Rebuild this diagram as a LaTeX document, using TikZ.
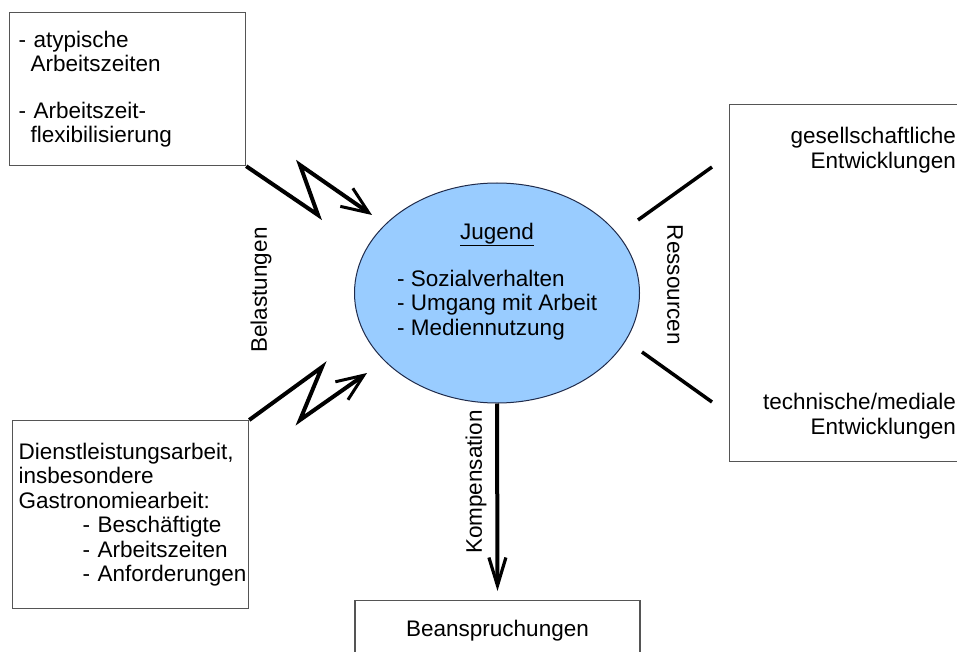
\documentclass[tikz,border=0pt]{standalone}
\usepackage{fontspec}
\setmainfont{Liberation Sans}
\usetikzlibrary{shapes.geometric,arrows.meta}
\definecolor{ellfill}{HTML}{99CCFF}
\definecolor{elldraw}{HTML}{1F2A4A}
\definecolor{boxdraw}{HTML}{555555}
\hyphenpenalty=10000
\exhyphenpenalty=10000
\tikzset{
  every node/.style={font=\fontsize{22.5}{24.5}\selectfont, inner sep=0pt},
  box/.style={draw=boxdraw, line width=1.2pt, rectangle},
  bolt/.style={line width=4pt, line join=miter, -{Straight Barb[length=27pt, width=22pt, line width=3pt]}},
  downarrow/.style={line width=4pt, -{Straight Barb[length=28pt, width=17pt, line width=3.2pt]}},
  plainline/.style={line width=3.5pt}
}
\begin{document}
\begin{tikzpicture}[x=1pt, y=-1pt]
\useasboundingbox (0,0) rectangle (957,652);
\begin{scope}
\clip (0,0) rectangle (957,652);

% top-left box
\node[box, anchor=north west, minimum width=236pt, minimum height=153pt,
      inner xsep=9pt, text width=218pt, align=left] (tl) at (9,12)
  {-~atypische\\\hspace*{12pt}Arbeitszeiten\\[22pt]-~Arbeitszeit-\\\hspace*{12pt}flexibilisierung};

% bottom-left box
\node[box, anchor=north west, minimum width=236pt, minimum height=188pt,
      inner xsep=6pt, text width=224pt, align=left] (bl) at (12,420)
  {Dienstleistungsarbeit,\\insbesondere\\Gastronomiearbeit:\\\hspace*{64pt}\mbox{-~Besch\"aftigte}\\\hspace*{64pt}\mbox{-~Arbeitszeiten}\\\hspace*{64pt}\mbox{-~Anforderungen}};

% right box (extends beyond right edge)
\node[box, anchor=north west, minimum width=280pt, minimum height=357pt] (rb) at (729,104) {};
\node[anchor=east, align=right] (rb1) at (956,150) {gesellschaftliche\\Entwicklungen};
\node[anchor=east, align=right] (rb2) at (956,416) {technische/mediale\\Entwicklungen};

% bottom box (extends beyond bottom edge)
\node[box, anchor=north, minimum width=285pt, minimum height=60pt] (bb) at (497.5,600) {Beanspruchungen};

% ellipse
\node[ellipse, draw=elldraw, line width=1pt, fill=ellfill, minimum width=285pt, minimum height=220pt] (el) at (497,293) {};
\node[anchor=base] (jug) at (497,239) {\underline{Jugend}};
\node[anchor=west, align=left] (list) at (397,305) {-~Sozialverhalten\\-~Umgang mit Arbeit\\-~Mediennutzung};

% lightning arrows
\coordinate (t1) at (318,215);
\coordinate (t2) at (300,165);
\coordinate (t3) at (372,215);
\draw[bolt] (tl.south east) -- (t1) -- (t2) -- (t3);
\coordinate (b1) at (322,367);
\coordinate (b2) at (300,420);
\coordinate (b3) at (367,373);
\draw[bolt] (bl.north east) -- (b1) -- (b2) -- (b3);

% resource lines
\coordinate (r1a) at (638,220);
\coordinate (r1b) at (712,167);
\coordinate (r2a) at (642,352);
\coordinate (r2b) at (712,402);
\draw[plainline] (r1a) -- (r1b);
\draw[plainline] (r2a) -- (r2b);

% compensation arrow
\draw[downarrow] (el.south) -- ([yshift=9pt]bb.north);

% rotated labels
\node[rotate=90] (bel) at (261,290) {Belastungen};
\node[rotate=-90] (res) at (675,285) {Ressourcen};
\node[rotate=90] (kom) at (476,482) {Kompensation};
\end{scope}
\end{tikzpicture}
\end{document}
